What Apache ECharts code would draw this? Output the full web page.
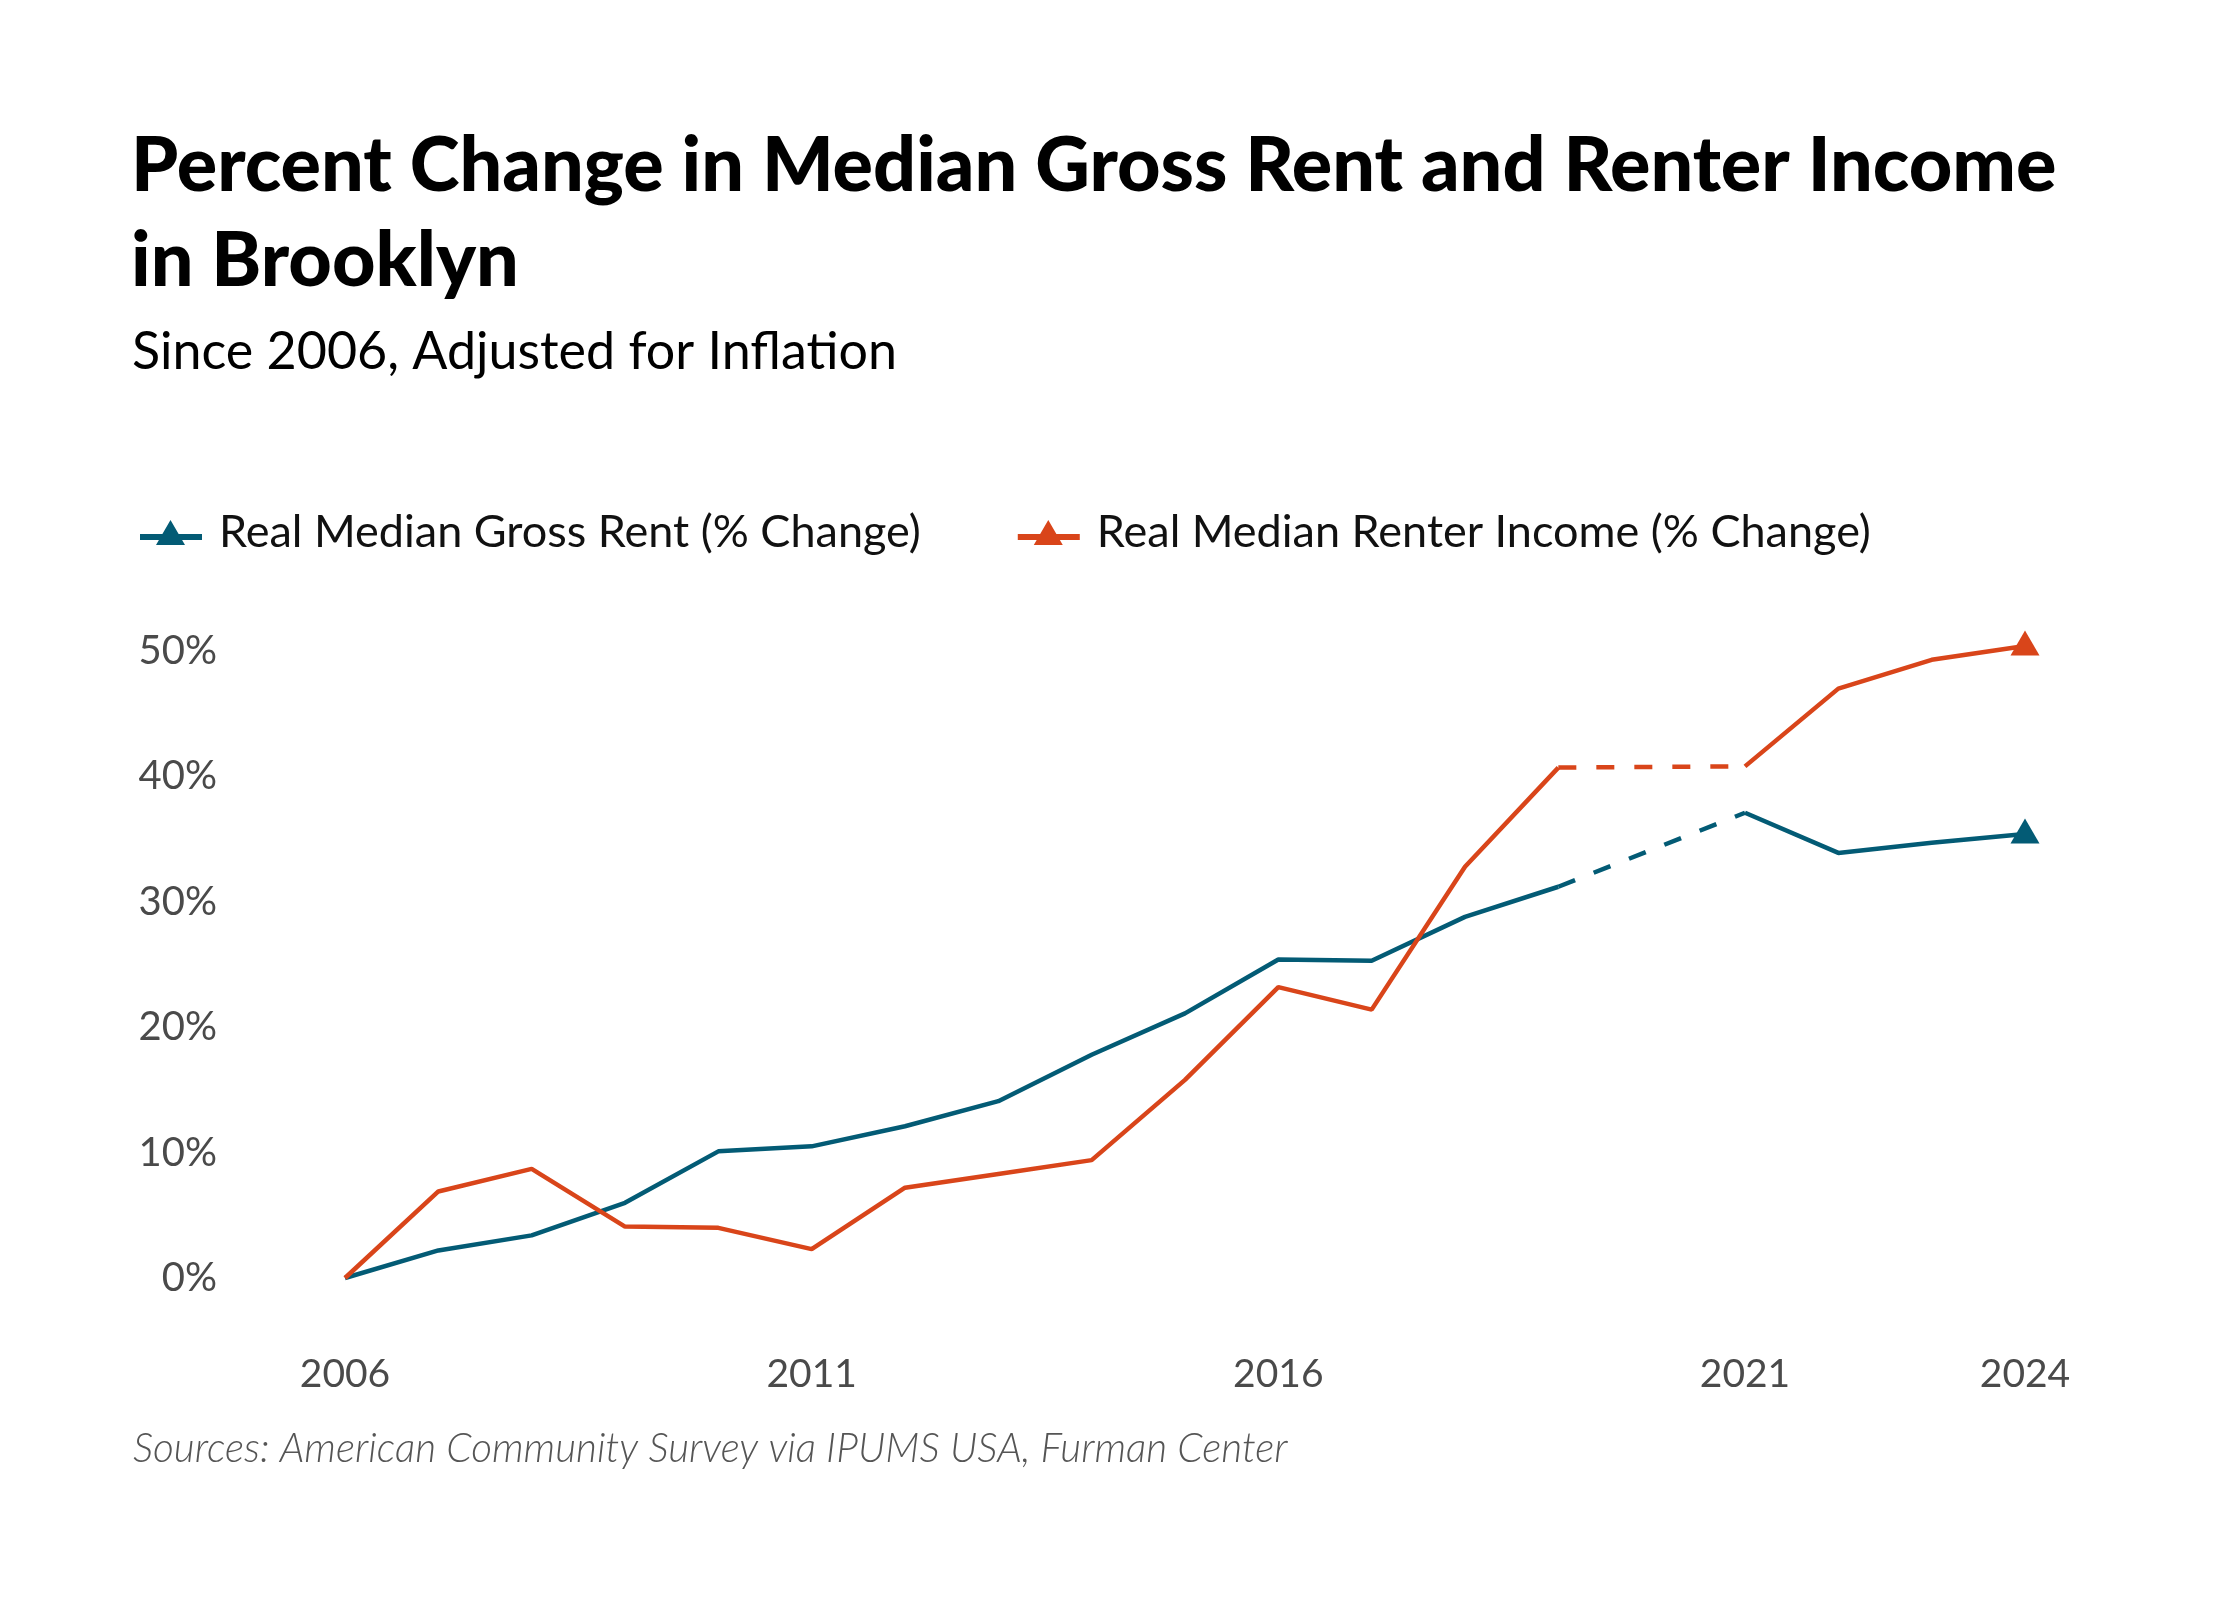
<!DOCTYPE html>
<html>
<head>
<meta charset="utf-8">
<script src="https://cdn.jsdelivr.net/npm/echarts@6/dist/echarts.min.js"></script>
<style>
  html, body { margin: 0; padding: 0; background: #fff; }
  #chart { width: 2240px; height: 1600px; }
</style>
</head>
<body>
<div id="chart"></div>
<script>
// years, 2020 has no ACS estimate so it stays empty
var years = [2006, 2007, 2008, 2009, 2010, 2011, 2012, 2013, 2014, 2015, 2016, 2017, 2018, 2019, 2020, 2021, 2022, 2023, 2024];
var rent = [0, 2.2, 3.4, 6.0, 10.1, 10.5, 12.1, 14.1, 17.8, 21.1, 25.4, 25.3, 28.8, 31.2, null, 37.1, 33.9, 34.7, 35.4];
var income = [0, 6.9, 8.7, 4.1, 4.0, 2.3, 7.2, 8.3, 9.4, 15.8, 23.2, 21.4, 32.8, 40.7, null, 40.8, 47.0, 49.3, 50.4];
var xTicks = [2006, 2011, 2016, 2021, 2024];
var yTicks = [0, 10, 20, 30, 40, 50];

var rentName = "Real Median Gross Rent (% Change)";
var incomeName = "Real Median Renter Income (% Change)";
var blue = "#035b75";
var orange = "#d9451a";

// solid line, triangle only on the last point
function solidData(vals){
	var out = [];
	for(var i = 0; i < years.length; i++){
		out.push({
			value: [years[i], vals[i] == null ? '-' : vals[i]],
			symbol: i == years.length - 1 ? 'triangle' : 'none'
		});
	}
	return out;
}

// dashed bridge over the missing year
function gapData(vals){
	var a = years.indexOf(2019), b = years.indexOf(2021);
	return [[years[a], vals[a]], [years[b], vals[b]]];
}

var legendIcon = 'path://M0,14L62,14L62,20L0,20Z M16,25L30.5,0L45,25Z';

var chart = echarts.init(document.getElementById("chart"));
chart.setOption({
	backgroundColor: '#fff',
	animation: false,
	title: [{
		text: "Percent Change in Median Gross Rent and Renter Income\nin Brooklyn",
		left: 131, top: 119, padding: 0,
		textStyle: {fontFamily: 'Lato', fontWeight: 900, fontSize: 75.5, lineHeight: 95, color: '#000'}
	}, {
		text: "Since 2006, Adjusted for Inflation",
		left: 132, top: 326, padding: 0,
		textStyle: {fontFamily: 'Lato', fontWeight: 'normal', fontSize: 52, lineHeight: 52, color: '#000'}
	}, {
		text: "Sources: American Community Survey via IPUMS USA, Furman Center",
		left: 133, top: 1429, padding: 0,
		textStyle: {fontFamily: 'Lato', fontStyle: 'italic', fontWeight: 300, fontSize: 40.5, lineHeight: 40, color: '#555'}
	}],
	legend: {
		left: 140, top: 510, padding: 0,
		itemWidth: 62, itemHeight: 25, itemGap: 97,
		selectedMode: false,
		textStyle: {fontFamily: 'Lato', fontSize: 45, color: '#111', padding: [0, 0, 0, 12]},
		data: [
			{name: rentName, icon: legendIcon, itemStyle: {color: blue}},
			{name: incomeName, icon: legendIcon, itemStyle: {color: orange}}
		]
	},
	grid: {left: 345, right: 215, top: 651, bottom: 322},
	xAxis: {
		type: 'value', min: 2006, max: 2024,
		axisLine: {show: false}, axisTick: {show: false}, splitLine: {show: false},
		axisLabel: {
			customValues: xTicks,
			margin: 77,
			fontFamily: 'Lato', fontSize: 39, color: '#4a4a4a',
			formatter: function(v){ return String(v); }
		}
	},
	yAxis: {
		type: 'value', min: 0, max: 50, interval: 10,
		axisLine: {show: false}, axisTick: {show: false}, splitLine: {show: false},
		axisLabel: {
			customValues: yTicks,
			margin: 128,
			fontFamily: 'Lato', fontSize: 40, color: '#4a4a4a',
			formatter: '{value}%'
		}
	},
	series: [{
		name: rentName, type: 'line', clip: false,
		symbol: 'triangle', symbolSize: [29, 25], symbolOffset: [0, -3],
		color: blue,
		itemStyle: {color: blue},
		lineStyle: {color: blue, width: 4.5},
		data: solidData(rent)
	}, {
		name: incomeName, type: 'line', clip: false,
		symbol: 'triangle', symbolSize: [29, 25], symbolOffset: [0, -3],
		color: orange,
		itemStyle: {color: orange},
		lineStyle: {color: orange, width: 4.5},
		data: solidData(income)
	}, {
		name: 'rent gap', type: 'line', clip: false, symbol: 'none',
		lineStyle: {color: blue, width: 4.5, type: [18, 20]},
		data: gapData(rent)
	}, {
		name: 'income gap', type: 'line', clip: false, symbol: 'none',
		lineStyle: {color: orange, width: 4.5, type: [18, 20]},
		data: gapData(income)
	}]
});
</script>
</body>
</html>
